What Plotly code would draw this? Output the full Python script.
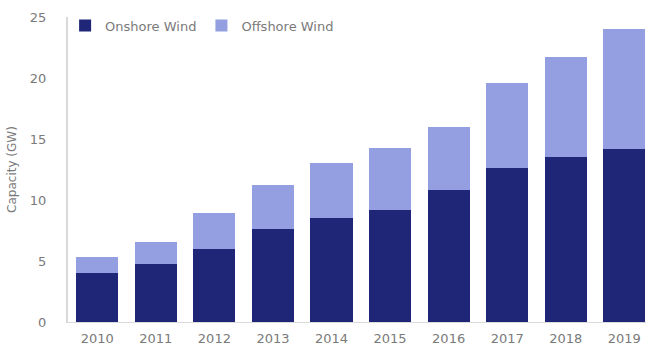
import plotly.graph_objects as go

years = ["2010", "2011", "2012", "2013", "2014", "2015", "2016", "2017", "2018", "2019"]
onshore = [4.05, 4.75, 6.0, 7.6, 8.5, 9.2, 10.8, 12.6, 13.5, 14.2]
totals = [5.35, 6.55, 8.95, 11.25, 13.0, 14.3, 16.0, 19.55, 21.7, 24.05]
offshore = [round(t - o, 2) for t, o in zip(totals, onshore)]
y_ticks = [0, 5, 10, 15, 20, 25]

grey = "#7a7a7a"
fam = "DejaVu Sans, sans-serif"

fig = go.Figure()
fig.add_bar(x=years, y=onshore, name="Onshore Wind", marker=dict(color="#1f2577", line=dict(width=0)))
fig.add_bar(x=years, y=offshore, name="Offshore Wind", marker=dict(color="#939fe0", line=dict(width=0)))

fig.update_layout(
    barmode="stack",
    bargap=0.28,
    width=646, height=352,
    margin=dict(l=68, r=0, t=17, b=30),
    paper_bgcolor="white", plot_bgcolor="white",
    font=dict(family=fam, size=13, color=grey),
    showlegend=True,
    legend=dict(orientation="h", x=-0.005, y=0.972, xanchor="left", yanchor="middle",
                bgcolor="rgba(0,0,0,0)", font=dict(family=fam, size=13, color=grey),
                traceorder="normal", itemwidth=30, tracegroupgap=0),
    xaxis=dict(type="category", range=[-0.5, 9.37], showline=True, linecolor="#d9d9d9",
               linewidth=1, ticks="", tickfont=dict(family=fam, size=13, color=grey),
               showgrid=False, ticklabelstandoff=4),
    yaxis=dict(range=[0, 25], tickvals=y_ticks, showline=True, linecolor="#d9d9d9", linewidth=2,
               showgrid=False, zeroline=False, ticks="", ticklen=0,
               tickfont=dict(family=fam, size=13, color=grey), ticklabelstandoff=17,
               title=dict(text="Capacity (GW)", font=dict(family=fam, size=12, color=grey), standoff=11)),
)
fig.write_html("out.html")
